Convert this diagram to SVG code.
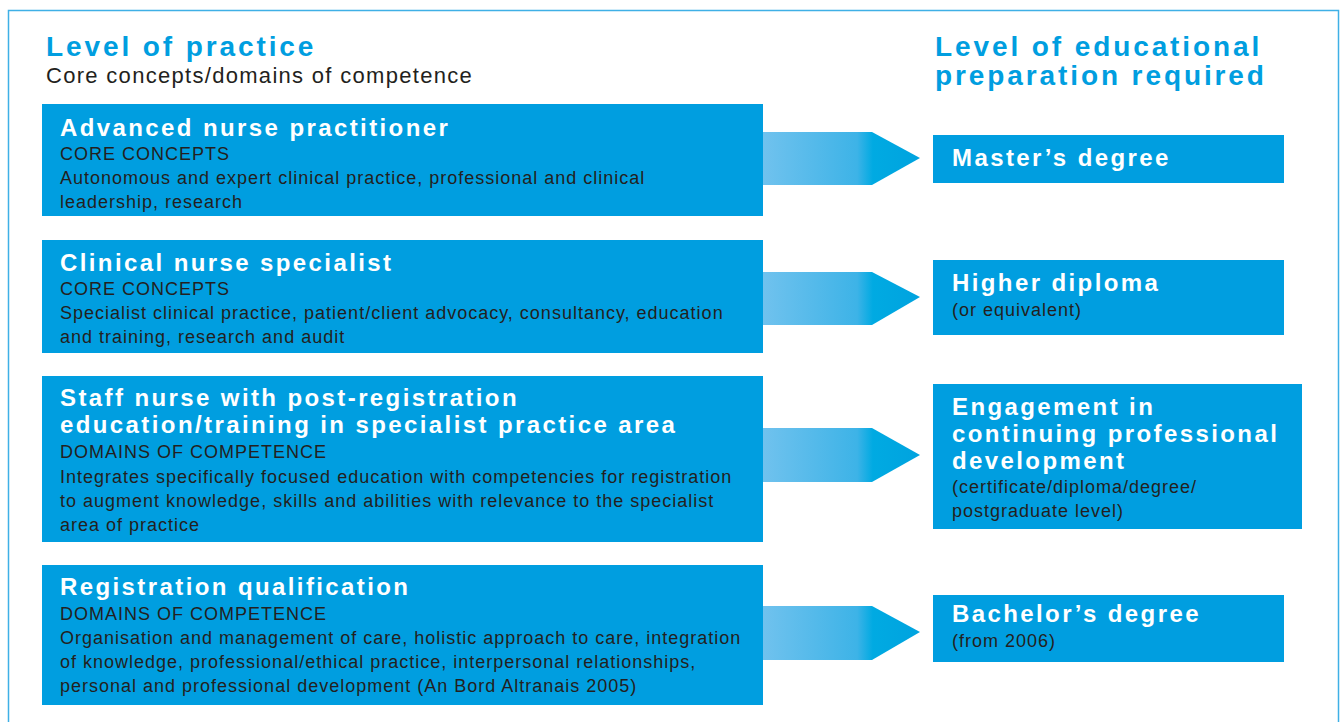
<svg xmlns="http://www.w3.org/2000/svg" width="1341" height="722" viewBox="0 0 1341 722">
<defs>
<linearGradient id="ag" x1="0" y1="0" x2="1" y2="0">
<stop offset="0" stop-color="#70c2ee"/>
<stop offset="0.6" stop-color="#3db3e7"/>
<stop offset="0.7" stop-color="#00aae2"/>
<stop offset="1" stop-color="#00a3df"/>
</linearGradient>
<style>
.box{fill:#009ee0}
.arrow{fill:url(#ag)}
.hd{font-family:"Liberation Sans",Arial,sans-serif;font-weight:bold;fill:#009ee0;font-size:28px;letter-spacing:2.9px}
.sub{font-family:"Liberation Sans",Arial,sans-serif;fill:#231f20;font-size:22px;letter-spacing:1.3px}
.t{font-family:"Liberation Sans",Arial,sans-serif;font-weight:bold;fill:#ffffff;font-size:24px;letter-spacing:2.4px}
.b{font-family:"Liberation Sans",Arial,sans-serif;fill:#231f20;font-size:18px;letter-spacing:1px}
</style>
</defs>
<rect x="0" y="0" width="1341" height="722" fill="#ffffff"/>
<rect x="8.5" y="10.5" width="1330" height="730" fill="none" stroke="#3fb0e6" stroke-width="1.5"/>
<g id="headers">
<text class="hd" x="46" y="56">Level of practice</text>
<text class="sub" x="46" y="83">Core concepts/domains of competence</text>
<text class="hd" x="935" y="56">Level of educational</text>
<text class="hd" x="935" y="85">preparation required</text>
</g>
<g id="connectors">
<polygon class="arrow" points="763,132 872,132 920,158 872,185 763,185"/>
<polygon class="arrow" points="763,272 872,272 920,297 872,325 763,325"/>
<polygon class="arrow" points="763,428 872,428 920,455 872,482 763,482"/>
<polygon class="arrow" points="763,606 872,606 920,632 872,660 763,660"/>
</g>
<g id="node-anp">
<rect class="box" x="42" y="104" width="721" height="112"/>
<text class="t" x="60" y="136">Advanced nurse practitioner</text>
<text class="b" x="60" y="160">CORE CONCEPTS</text>
<text class="b" x="60" y="184">Autonomous and expert clinical practice, professional and clinical</text>
<text class="b" x="60" y="208">leadership, research</text>
</g>
<g id="node-cns">
<rect class="box" x="42" y="240" width="721" height="113"/>
<text class="t" x="60" y="271">Clinical nurse specialist</text>
<text class="b" x="60" y="295">CORE CONCEPTS</text>
<text class="b" x="60" y="319">Specialist clinical practice, patient/client advocacy, consultancy, education</text>
<text class="b" x="60" y="343">and training, research and audit</text>
</g>
<g id="node-staff">
<rect class="box" x="42" y="376" width="721" height="166"/>
<text class="t" x="60" y="406">Staff nurse with post-registration</text>
<text class="t" x="60" y="433">education/training in specialist practice area</text>
<text class="b" x="60" y="458">DOMAINS OF COMPETENCE</text>
<text class="b" x="60" y="483">Integrates specifically focused education with competencies for registration</text>
<text class="b" x="60" y="507">to augment knowledge, skills and abilities with relevance to the specialist</text>
<text class="b" x="60" y="531">area of practice</text>
</g>
<g id="node-reg">
<rect class="box" x="42" y="565" width="721" height="140"/>
<text class="t" x="60" y="595">Registration qualification</text>
<text class="b" x="60" y="620">DOMAINS OF COMPETENCE</text>
<text class="b" x="60" y="644">Organisation and management of care, holistic approach to care, integration</text>
<text class="b" x="60" y="668">of knowledge, professional/ethical practice, interpersonal relationships,</text>
<text class="b" x="60" y="692">personal and professional development (An Bord Altranais 2005)</text>
</g>
<g id="node-masters">
<rect class="box" x="933" y="135" width="351" height="48"/>
<text class="t" x="952" y="166">Master’s degree</text>
</g>
<g id="node-hd">
<rect class="box" x="933" y="260" width="351" height="75"/>
<text class="t" x="952" y="291">Higher diploma</text>
<text class="b" x="952" y="316">(or equivalent)</text>
</g>
<g id="node-cpd">
<rect class="box" x="933" y="384" width="369" height="145"/>
<text class="t" x="952" y="415">Engagement in</text>
<text class="t" x="952" y="442">continuing professional</text>
<text class="t" x="952" y="469">development</text>
<text class="b" x="952" y="493">(certificate/diploma/degree/</text>
<text class="b" x="952" y="517">postgraduate level)</text>
</g>
<g id="node-bach">
<rect class="box" x="933" y="595" width="351" height="67"/>
<text class="t" x="952" y="622">Bachelor’s degree</text>
<text class="b" x="952" y="647">(from 2006)</text>
</g>
</svg>
